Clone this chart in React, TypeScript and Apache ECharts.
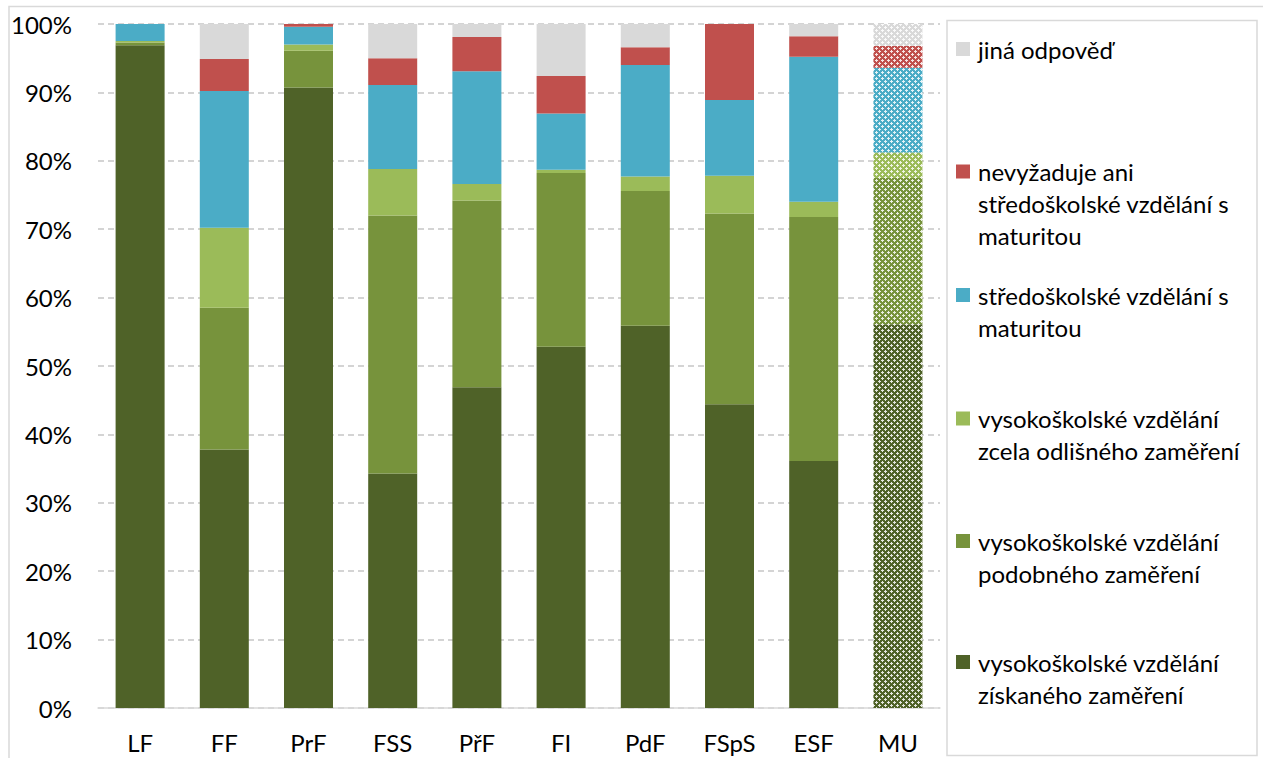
import React, { useEffect, useRef } from "react";
import * as echarts from "echarts";

const categories = ["LF", "FF", "PrF", "FSS", "PřF", "FI", "PdF", "FSpS", "ESF", "MU"];

const seriesNames = [
  "vysokoškolské vzdělání získaného zaměření",
  "vysokoškolské vzdělání podobného zaměření",
  "vysokoškolské vzdělání zcela odlišného zaměření",
  "středoškolské vzdělání s maturitou",
  "nevyžaduje ani středoškolské vzdělání s maturitou",
  "jiná odpověď",
];

// legend labels (top to bottom), as wrapped in the picture
const legendLabels = [
  "jiná odpověď",
  "nevyžaduje ani\nstředoškolské vzdělání s\nmaturitou",
  "středoškolské vzdělání s\nmaturitou",
  "vysokoškolské vzdělání\nzcela odlišného zaměření",
  "vysokoškolské vzdělání\npodobného zaměření",
  "vysokoškolské vzdělání\nzískaného zaměření",
];

const ziskanehoValues = [96.9, 37.8, 90.7, 34.3, 46.9, 52.8, 55.9, 44.4, 36.1, 56.1];
const podobnehoValues = [0.4, 20.7, 5.4, 37.7, 27.3, 25.4, 19.7, 27.9, 35.7, 21.4];
const odlisnehoValues = [0.2, 11.7, 0.9, 6.8, 2.4, 0.5, 2.1, 5.5, 2.2, 3.7];
const stredoskolskeValues = [2.5, 20.0, 2.6, 12.3, 16.5, 8.2, 16.3, 11.1, 21.2, 12.4];
const nevyzadujeValues = [0, 4.7, 0.5, 3.9, 5.0, 5.5, 2.6, 11.1, 3.0, 3.2];
const jinaValues = [0, 5.1, 0, 5.0, 1.9, 7.6, 3.4, 0, 1.8, 3.2];

const yTicks = [0, 10, 20, 30, 40, 50, 60, 70, 80, 90, 100];

const seriesValues = [
  ziskanehoValues,
  podobnehoValues,
  odlisnehoValues,
  stredoskolskeValues,
  nevyzadujeValues,
  jinaValues,
];
const seriesColors = ["#4F6228", "#77933C", "#9BBB59", "#4BACC6", "#C0504D", "#D9D9D9"];
const patternedCategory = "MU";

const FONT = "Lato, 'Noto Sans', sans-serif";
const FS = 24;

function makePattern(color: string) {
  const c = document.createElement("canvas");
  c.width = 6;
  c.height = 6;
  const ctx = c.getContext("2d")!;
  ctx.fillStyle = color;
  ctx.fillRect(0, 0, 6, 6);
  ctx.fillStyle = "rgba(255,255,255,0.85)";
  const whites = [
    [0, 0], [1, 0], [5, 0], [0, 1], [0, 5],
    [3, 3], [2, 3], [4, 3], [3, 2], [3, 4],
  ];
  whites.forEach(([x, y]) => ctx.fillRect(x, y, 1, 1));
  return {
    image: c.toDataURL(),
    repeat: "repeat",
    imageWidth: 6,
    imageHeight: 6,
  };
}

export default function App() {
  const ref = useRef<HTMLDivElement>(null);

  useEffect(() => {
    if (!ref.current) return;
    const chart = echarts.init(ref.current, undefined, { renderer: "svg" });

    const series = seriesNames.map((name, si) => {
      const pattern = makePattern(seriesColors[si]);
      return {
        name,
        type: "bar",
        stack: "total",
        barWidth: 49,
        itemStyle: { color: seriesColors[si] },
        emphasis: { disabled: true },
        data: seriesValues[si].map((v, i) =>
          categories[i] === patternedCategory
            ? { value: v, itemStyle: { color: pattern } }
            : v
        ),
      };
    });

    const legendCenters = [49, 171.5, 295, 418.5, 541, 662];
    const legendColors = [...seriesColors].reverse();
    const legendGraphics: any[] = [];
    legendLabels.forEach((label, i) => {
      const cy = legendCenters[i];
      legendGraphics.push({
        type: "rect",
        shape: { x: 956, y: cy - 7, width: 14, height: 14 },
        style: { fill: legendColors[i] },
        silent: true,
      });
      legendGraphics.push({
        type: "text",
        x: 978,
        y: cy - 16,
        style: {
          text: label,
          font: `${FS}px ${FONT}`,
          fill: "#000",
          lineHeight: 32,
          verticalAlign: "top",
          align: "left",
        },
        silent: true,
      });
    });

    chart.setOption({
      animation: false,
      textStyle: { fontFamily: FONT },
      grid: { left: 98, right: 323, top: 24, bottom: 50, containLabel: false },
      xAxis: {
        type: "category",
        data: categories,
        axisLine: { show: true, lineStyle: { color: "#D9D9D9", width: 1.5 } },
        axisTick: { show: false },
        axisLabel: { fontSize: FS, color: "#000", margin: 22, fontFamily: FONT },
      },
      yAxis: {
        type: "value",
        min: yTicks[0],
        max: yTicks[yTicks.length - 1],
        interval: 10,
        axisLine: { show: false },
        axisTick: { show: false },
        axisLabel: {
          formatter: "{value}%",
          fontSize: FS,
          color: "#000",
          margin: 26,
          fontFamily: FONT,
        },
        splitLine: {
          show: true,
          lineStyle: { color: "#D4D4D4", width: 2, type: [6, 4] },
        },
      },
      series,
      graphic: [
        {
          type: "rect",
          shape: { x: 9, y: 6.5, width: 1300, height: 800 },
          style: { fill: "none", stroke: "#D9D9D9", lineWidth: 1.5 },
          silent: true,
          z: -1,
        },
        {
          type: "rect",
          shape: { x: 947, y: 20.5, width: 310, height: 735 },
          style: { fill: "#fff", stroke: "#D9D9D9", lineWidth: 1.5 },
          silent: true,
        },
        ...legendGraphics,
      ],
    });

    return () => chart.dispose();
  }, []);

  return (
    <div
      ref={ref}
      style={{ position: "fixed", left: 0, top: 0, width: 1263, height: 758, background: "#fff" }}
    />
  );
}
